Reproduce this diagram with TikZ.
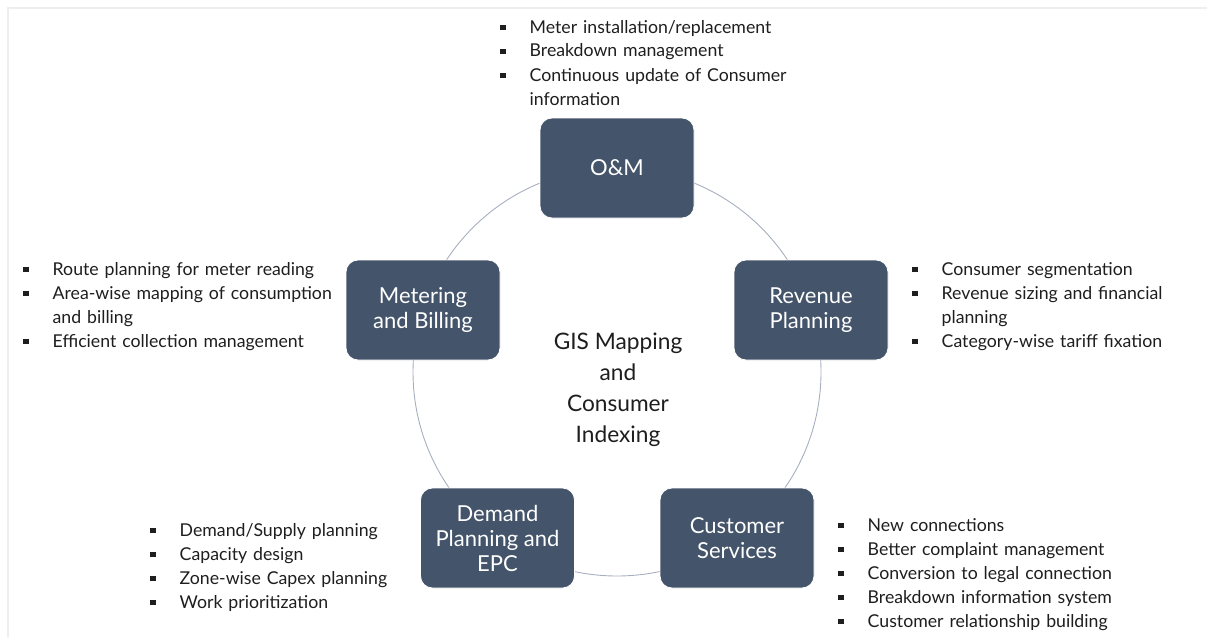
\documentclass[tikz,border=0pt]{standalone}
\usepackage{fontspec}
\setmainfont{Lato}
\definecolor{boxfill}{HTML}{44546A}
\definecolor{ringcol}{HTML}{A7AFBE}
\definecolor{txt}{HTML}{1E1E1E}
\definecolor{frame}{HTML}{EEEEEE}
\newcommand{\bul}{\makebox[29.5pt][l]{\rule[3pt]{5.5pt}{5.5pt}}}
\newcommand{\cont}{\hspace*{29.5pt}}
\tikzset{
  areabox/.style={draw=white, line width=0.8pt, fill=boxfill, rounded corners=12pt,
    minimum width=154pt, minimum height=100pt, inner sep=0pt, align=center,
    text=white, font=\fontsize{22}{25}\selectfont},
  bullist/.style={anchor=base west, inner sep=0pt, text width=340pt, align=left,
    text=txt, font=\fontsize{17.7}{24}\selectfont},
  ring/.style={draw=ringcol, line width=0.9pt}
}
\begin{document}
\begin{tikzpicture}[x=1pt,y=-1pt]
\useasboundingbox (0,0) rectangle (1207,637);
% faint frame
\coordinate (fa) at (8,637);
\coordinate (fb) at (8,8);
\coordinate (fc) at (1207,8);
\draw[frame, line width=1.6pt] (fa) -- (fb) -- (fc);
% ring
\coordinate (c) at (617,372);
\draw[ring] (c) circle[radius=204pt];
% boxes
\node[areabox] (om) at (617,168) {O\&M};
\node[areabox] (mb) at (423,310) {Metering\\and Billing};
\node[areabox] (rp) at (811,310) {Revenue\\Planning};
\node[areabox] (dp) at (497.5,538) {Demand\\Planning and\\EPC};
\node[areabox] (cs) at (737,538) {Customer\\Services};
% centre text
\node[align=center, text=txt, inner sep=0pt, font=\fontsize{22.7}{31}\selectfont] (gis) at (618,390)
  {GIS Mapping\\and\\Consumer\\Indexing};
% bullet lists
\node[bullist] (ltop) at (500,33) {\bul Meter installation/replacement\\
  \bul Breakdown management\\
  \bul Continuous update of Consumer\\
  \cont information};
\node[bullist] (lleft) at (23,275) {\bul Route planning for meter reading\\
  \bul Area-wise mapping of consumption\\
  \cont and billing\\
  \bul Efficient collection management};
\node[bullist] (lright) at (912,275) {\bul Consumer segmentation\\
  \bul Revenue sizing and financial\\
  \cont planning\\
  \bul Category-wise tariff fixation};
\node[bullist] (lbl) at (150,536) {\bul Demand/Supply planning\\
  \bul Capacity design\\
  \bul Zone-wise Capex planning\\
  \bul Work prioritization};
\node[bullist] (lbr) at (838,531) {\bul New connections\\
  \bul Better complaint management\\
  \bul Conversion to legal connection\\
  \bul Breakdown information system\\
  \bul Customer relationship building};
\end{tikzpicture}
\end{document}
